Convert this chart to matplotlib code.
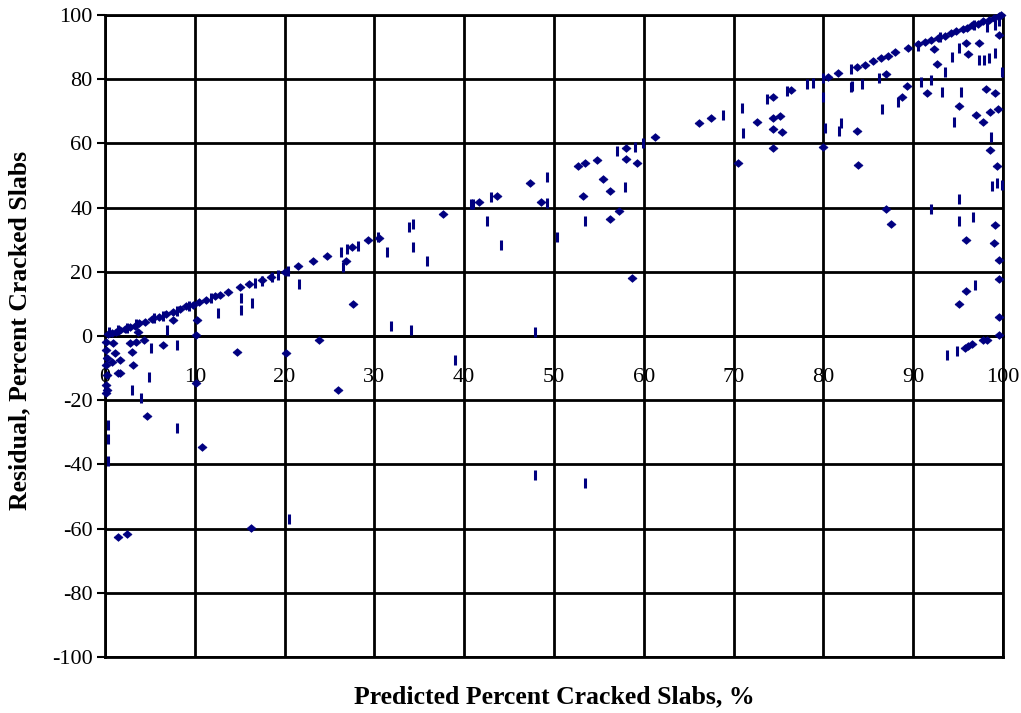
import matplotlib
matplotlib.use("Agg")
import matplotlib.pyplot as plt

# Diamonds series (predicted %, residual)
dia_x = [0.3, 0.8, 1.2, 1.7, 2.2, 2.8, 3.3, 3.8, 4.5, 5.2, 6.0, 6.8, 7.6, 8.3, 9.0, 9.8, 10.5, 11.2, 12.2, 12.8,
         13.7, 15.0, 16.0, 17.5, 18.5, 20.0, 21.5, 23.2, 24.7, 27.5, 29.3, 30.5, 37.6, 41.6, 43.6, 47.3, 52.7, 53.5,
         54.8, 58.0, 61.2, 66.1, 67.5, 74.4, 76.4, 80.5, 81.6, 83.7, 84.6, 85.5, 86.4, 87.2, 88.0, 89.4, 90.5, 91.3,
         92.0, 92.8, 93.5, 94.2, 94.8, 95.5, 96.0, 96.6, 97.2, 97.8, 98.4, 99.0, 99.5, 99.8,
         0.1, 0.1, 0.2, 0.1, 0.2, 0.1, 0.2, 0.1, 0.9, 1.1, 1.7, 0.8, 1.5, 3.0, 3.1, 3.7, 4.3, 2.8, 3.5, 6.5,
         7.6, 10.2, 10.1, 1.7, 4.7, 10.8, 10.1, 14.7, 20.2, 23.8, 26.0, 27.6, 26.8, 1.4, 2.4, 16.3, 48.5, 53.2,
         55.5, 56.2, 56.2, 57.2, 58.0, 59.2, 58.7, 70.5, 72.6, 74.4, 75.2, 74.4, 75.4, 74.4, 80.0, 83.7, 83.9,
         87.0, 89.3, 88.7, 91.5, 92.7, 92.3, 95.1, 97.0, 97.8, 98.6, 99.4, 98.1, 99.1, 98.6, 99.3, 96.1, 95.9,
         97.3, 99.5, 87.0, 87.5, 95.9, 99.1, 99.0, 99.5, 99.5, 95.9, 95.1, 99.5, 99.5, 98.2, 97.8, 95.8, 96.1, 96.5]
dia_y = [0.5, 1.0, 1.3, 1.8, 2.3, 2.9, 3.2, 3.9, 4.4, 5.3, 6.0, 6.7, 7.6, 8.3, 9.2, 9.8, 10.6, 11.3, 12.4, 12.9,
         13.8, 15.2, 16.1, 17.6, 18.4, 20.0, 21.8, 23.4, 24.9, 27.8, 30.0, 30.6, 38.0, 41.8, 43.6, 47.7, 53.0, 53.9,
         54.8, 58.6, 61.9, 66.4, 67.9, 74.5, 76.6, 80.7, 81.9, 83.8, 84.5, 85.6, 86.5, 87.3, 88.4, 89.7, 91.0, 91.5,
         92.2, 92.8, 93.6, 94.3, 95.0, 95.6, 96.1, 96.8, 97.3, 98.0, 98.5, 99.1, 99.6, 99.9,
         -1.9, -4.4, -6.9, -9.0, -12.1, -15.3, -16.8, -17.8, -2.2, -5.3, -7.5, -8.1, -11.5, -5.0, -9.0, 1.2, -1.2, -2.2, -1.9, -2.8,
         5.0, 5.0, 0.3, -11.6, -25.0, -34.5, -14.7, -4.9, -5.2, -1.2, -16.8, 10.0, 23.4, -62.6, -61.6, -59.8, 41.8, 43.6,
         48.9, 45.2, 36.4, 38.9, 55.1, 53.9, 18.1, 53.9, 66.7, 67.9, 68.5, 64.5, 63.6, 58.6, 58.9, 63.9, 53.3,
         81.6, 77.9, 74.5, 75.7, 84.7, 89.4, 71.7, 68.8, 66.7, 69.8, 70.7, 76.9, 75.7, 57.9, 53.0, 87.8, 91.3,
         91.3, 93.8, 39.6, 34.9, 29.9, 34.6, 29.0, 23.7, 17.8, 14.0, 10.0, 5.9, 0.3, -1.2, -1.2, -3.7, -3.1, -2.6]

# Dashes series (predicted %, residual)
dash_x = [0.5, 1.5, 2.5, 3.5, 5.5, 6.5, 8.0, 9.3, 11.8, 16.7, 17.5, 18.6, 19.3, 20.4, 26.3, 27.0, 28.2, 30.4,
          41.0, 43.0, 57.0, 59.0, 59.9, 68.8, 70.9, 73.7, 76.0, 78.2, 78.8, 80.0, 83.1, 90.5, 93.0, 96.8, 98.2,
          99.1, 99.6,
          0.3, 0.3, 0.3, 4.9, 3.0, 4.0, 8.0, 8.0, 5.1, 6.9, 12.6, 15.2, 15.2, 16.4, 21.6, 26.5, 31.4, 33.9, 34.3,
          34.3, 35.9, 40.8, 42.5, 44.1, 49.2, 49.2, 50.3, 53.5, 57.9, 34.1, 47.9, 31.8, 39.0, 47.9, 53.5, 20.5,
          71.0, 80.0, 80.2, 82.0, 81.7, 83.1, 86.2, 83.2, 84.3, 88.3, 86.5, 90.9, 92.0, 93.2, 95.3, 94.3, 93.5,
          95.1, 94.5, 98.7, 99.9, 97.3, 97.9, 98.4, 99.1, 98.8, 99.3, 99.9, 92.0, 95.1, 95.1, 96.7, 96.9, 93.8, 94.9]
dash_y = [1.2, 1.8, 2.6, 3.7, 5.6, 6.2, 7.8, 9.2, 11.9, 16.6, 17.2, 18.3, 19.1, 20.2, 26.3, 27.2, 28.0, 30.8,
          41.1, 43.3, 57.6, 58.9, 60.1, 68.8, 71.0, 73.8, 76.3, 78.5, 78.8, 80.4, 83.2, 90.4, 93.2, 97.0, 96.3,
          97.0, 98.2,
          -27.7, -32.0, -39.0, -12.8, -16.8, -19.3, -28.7, -2.8, -3.7, 1.9, 7.2, 8.0, 11.8, 10.3, 16.2, 21.5, 26.1, 34.0, 34.9,
          27.7, 23.4, 41.1, 35.8, 28.3, 49.5, 41.4, 30.8, 35.8, 46.4, 1.9, 1.2, 3.1, -7.5, -43.3, -45.8, -57.0,
          63.2, 74.5, 64.8, 66.4, 63.9, 77.6, 80.4, 77.9, 78.5, 72.9, 70.7, 79.1, 79.7, 76.0, 76.0, 86.9, 82.2,
          89.7, 66.7, 62.0, 82.2, 86.0, 86.0, 86.6, 88.2, 46.7, 47.7, 47.0, 39.6, 42.7, 35.8, 37.1, 15.9, -5.9, -4.7]

x_ticks = [0, 10, 20, 30, 40, 50, 60, 70, 80, 90, 100]
y_ticks = [-100, -80, -60, -40, -20, 0, 20, 40, 60, 80, 100]

x_label = "Predicted Percent Cracked Slabs, %"
y_label = "Residual, Percent Cracked Slabs"

plt.rcParams['font.family'] = ['Liberation Serif', 'DejaVu Serif']
plt.rcParams['axes.unicode_minus'] = False

fig = plt.figure(figsize=(10.21, 7.13), dpi=100)
ax = fig.add_axes([105/1021, 1 - 657/713, (1003 - 105)/1021, (657 - 15)/713])

navy = '#000080'
diamond = [(-1, 0), (0, 0.85), (1, 0), (0, -0.85), (-1, 0)]
ax.plot(dash_x, dash_y, linestyle='none', marker='|', markersize=7.5, markeredgewidth=2.2,
        color=navy, zorder=3, clip_on=False)
ax.plot(dia_x, dia_y, linestyle='none', marker=diamond, markersize=6.5, color=navy,
        markeredgewidth=0.5, zorder=4, clip_on=False)

ax.set_xlim(0, 100)
ax.set_ylim(-100, 100)
ax.set_xticks(x_ticks)
ax.set_yticks(y_ticks)
ax.grid(True, color='black', linewidth=2.0, zorder=1)
ax.set_axisbelow(True)

for s in ['top', 'right']:
    ax.spines[s].set_visible(False)
ax.spines['left'].set_linewidth(2.0)
ax.spines['bottom'].set_position(('data', 0))
ax.spines['bottom'].set_linewidth(2.0)
ax.axhline(-100, color='black', linewidth=2.0, clip_on=False, zorder=1)
ax.axhline(100, color='black', linewidth=2.0, clip_on=False, zorder=1)
ax.axvline(100, color='black', linewidth=2.0, clip_on=False, zorder=1)

ax.tick_params(axis='x', length=0, pad=23, labelsize=16)
ax.tick_params(axis='y', direction='out', length=6, width=1.5, pad=3, labelsize=16)

fig.text(554/1021, 1 - 697/713, x_label, ha='center', va='center', fontsize=18.5, fontweight='bold')
fig.text(20/1021, 1 - 330/713, y_label, ha='center', va='center', rotation=90, fontsize=18.5, fontweight='bold')

fig.savefig('out.png', dpi=100)
